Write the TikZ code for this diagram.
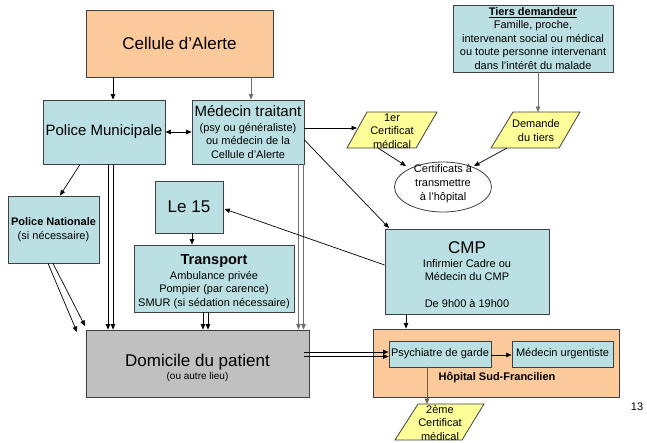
\documentclass[tikz,border=0pt]{standalone}
\usepackage{fontspec}
\setmainfont{Liberation Sans}
\usetikzlibrary{arrows.meta,shapes.geometric}
\definecolor{boxblue}{RGB}{187,224,228}
\definecolor{boxorange}{RGB}{252,201,155}
\definecolor{boxgray}{RGB}{192,192,192}
\definecolor{boxyellow}{RGB}{255,255,153}
\definecolor{edge}{RGB}{64,64,64}
\definecolor{lgray}{RGB}{110,110,110}
\newcommand{\fs}[2]{\fontsize{#1}{#2}\selectfont}
\begin{document}
\begin{tikzpicture}[x=1pt,y=-1pt,
  box/.style={draw=edge,line width=0.9pt,fill=boxblue,rectangle,inner sep=0pt,align=center,font=\fs{11}{13.5}},
  arr/.style={line width=0.7pt,-{Triangle[length=5.5pt,width=4.5pt]}},
  arrg/.style={arr,draw=lgray},
  darr/.style={line width=0.7pt,{Triangle[length=5.5pt,width=4.5pt]}-{Triangle[length=5.5pt,width=4.5pt]}},
  para/.style={draw=edge,line width=0.8pt,fill=boxyellow},
  txt/.style={inner sep=0pt,align=center,font=\fs{11}{13.5}}]
\useasboundingbox (0,0) rectangle (647,442);
\fill[white] (0,0) rectangle (647,442);

% boxes
\node[box,fill=boxorange,minimum width=187pt,minimum height=67pt] (cell) at (179.5,43.5) {\fs{17}{20}Cellule d’Alerte};
\node[box,minimum width=122pt,minimum height=64pt] (pm) at (104,132) {\fs{15}{18}Police Municipale};
\node[box,minimum width=112pt,minimum height=64pt] (mt) at (248,132) {\fs{15}{15}Médecin traitant\\[1pt](psy ou généraliste)\\ou médecin de la\\Cellule d’Alerte};
\node[box,minimum width=91pt,minimum height=67pt] (pn) at (53.5,229.5) {\textbf{Police Nationale}\\(si nécessaire)};
\node[box,minimum width=68pt,minimum height=52pt] (le15) at (189,207) {\fs{17}{20}Le 15};
\node[box,minimum width=160pt,minimum height=67pt] (tr) at (214,278.5) {};
\node[txt] (trt) at (214,281.5) {\fs{14.5}{15}\textbf{Transport}\\[1pt]Ambulance privée\\Pompier (par carence)\\SMUR (si sédation nécessaire)};
\node[box,fill=boxgray,minimum width=223pt,minimum height=67pt] (dom) at (197.5,363.5) {};
\node[txt,font=\fs{10}{13}] (domt) at (197.5,368) {\fs{17}{18}Domicile du patient\\(ou autre lieu)};
\node[box,minimum width=160pt,minimum height=67pt] (tiers) at (533,38.5) {\underline{\textbf{Tiers demandeur}}\\Famille, proche,\\intervenant social ou médical\\ou toute personne intervenant\\dans l’intérêt du malade};
\node[box,minimum width=164pt,minimum height=85pt] (cmp) at (467,271.5) {};
\node[txt] (cmpt) at (467,275) {\fs{17}{17}CMP\\Infirmier Cadre ou\\Médecin du CMP\\[13.5pt]De 9h00 à 19h00};
\node[box,fill=boxorange,minimum width=246pt,minimum height=68pt] (hop) at (496,363) {};
\node[box,minimum width=102pt,minimum height=26pt] (psy) at (440,354) {Psychiatre de garde};
\node[box,minimum width=101pt,minimum height=26pt] (urg) at (562.5,354) {Médecin urgentiste};
\node[txt] (hopt) at (497,378) {\textbf{Hôpital Sud-Francilien}};

% parallelograms
\coordinate (c1a) at (367,112); \coordinate (c1b) at (437,112);
\coordinate (c1c) at (416,148); \coordinate (c1d) at (347,148);
\draw[para] (c1a) -- (c1b) -- (c1c) -- (c1d) -- cycle;
\node[txt] (cert1) at (392,131) {1er\\Certificat\\médical};
\coordinate (d1a) at (513,112); \coordinate (d1b) at (580,112);
\coordinate (d1c) at (559,148); \coordinate (d1d) at (491,148);
\draw[para] (d1a) -- (d1b) -- (d1c) -- (d1d) -- cycle;
\node[txt] (dem) at (536,130.5) {Demande\\du tiers};
\coordinate (e1a) at (418,404); \coordinate (e1b) at (484,404);
\coordinate (e1c) at (462,440); \coordinate (e1d) at (395,440);
\draw[para] (e1a) -- (e1b) -- (e1c) -- (e1d) -- cycle;
\node[txt] (cert2) at (440,422.5) {2ème\\Certificat\\médical};

% ellipse
\node[draw=edge,line width=0.8pt,fill=white,ellipse,minimum width=97pt,minimum height=50pt,inner sep=0pt] (ell) at (443,187) {};
\node[txt,font=\fs{11}{14}] (ellt) at (443,184) {Certificats à\\transmettre\\à l’hôpital};

% connectors
\draw[arr] (cell.south -| 113,0) -- (pm.north -| 113,0);
\draw[arrg] (cell.south -| 251,0) -- (mt.north -| 251,0);
\draw[darr] (pm.east) -- (mt.west);
\draw[arr] (pm.south -| 80,0) -- (pn.north -| 60,0);
\draw[arr] (pm.south -| 108,0) -- (dom.north -| 108,0);
\draw[arr] (pm.south -| 113,0) -- (dom.north -| 113,0);
\draw[arrg] (mt.south -| 298.5,0) -- (dom.north -| 298.5,0);
\draw[arrg] (mt.south -| 303.5,0) -- (dom.north -| 303.5,0);
\draw[arr] (tr.south -| 203,0) -- (dom.north -| 203,0);
\draw[arr] (tr.south -| 208,0) -- (dom.north -| 208,0);
\coordinate (pnd1) at (77,332); \coordinate (pnd2) at (85,326);
\draw[arr] (pn.south -| 48,0) -- (pnd1);
\draw[arr] (pn.south -| 53,0) -- (pnd2);
\draw[arr] (le15.south -| 192,0) -- (tr.north -| 192,0);
\draw[arr] (mt.east |- 0,128) -- (357,128) coordinate (c1l);
\coordinate (cmptl) at (389,228);
\draw[arr] (mt.east |- 0,140) -- (cmptl);
\coordinate (le15r) at (224.5,209);
\draw[arr] (cmp.west |- 0,265) -- (le15r);
\coordinate (c1bot) at (378,148); \coordinate (ell1) at (406,166);
\draw[arr] (c1bot) -- (ell1);
\coordinate (d1bot) at (507,148); \coordinate (ell2) at (474,166);
\draw[arr] (d1bot) -- (ell2);
\draw[arrg] (tiers.south -| 538,0) -- (d1a -| 538,0);
\draw[arr] (cmp.south -| 406,0) -- (hop.north -| 406,0);
\draw[arr] (304,352) -- (psy.west |- 0,352);
\draw[arr] (304,356.5) -- (psy.west |- 0,356.5);
\draw[arr] (psy.east |- 0,355) -- (urg.west |- 0,355);
\draw[arr,draw={rgb,255:red,120;green,90;blue,60}] (psy.south -| 427,0) -- (e1a -| 427,0);

\node[txt] (pg) at (637,407) {13};
\end{tikzpicture}
\end{document}
